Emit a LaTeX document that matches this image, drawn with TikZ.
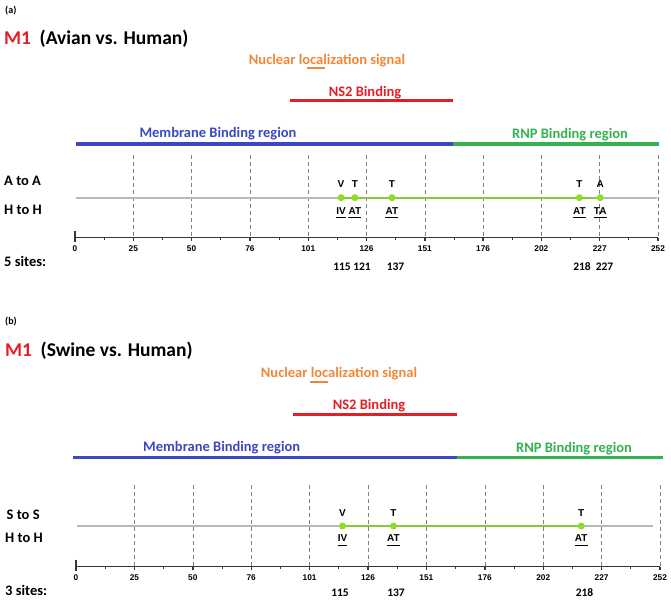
\documentclass[tikz,border=0pt]{standalone}
\usepackage{fontspec}
\setmainfont{Carlito}
\newfontfamily\arialf{Liberation Sans}
\definecolor{mred}{RGB}{226,30,38}
\definecolor{morange}{RGB}{240,135,55}
\definecolor{mblue}{RGB}{60,72,195}
\definecolor{mgreen}{RGB}{52,178,80}
\definecolor{dotgreen}{RGB}{140,222,40}
\definecolor{linegreen}{RGB}{140,200,60}
\definecolor{axgray}{RGB}{55,55,55}
\newcommand\fs[1]{\fontsize{#1}{#1}\selectfont}
\newcommand\axisrow[8]{%
  \foreach \v/\l [count=\i] in {0/0,25.2/25,50.4/50,75.6/76,100.8/101,126/126,151.2/151,176.4/176,201.6/202,226.8/227,252/252}{
    \ifnum\i>1 \draw[dashln] ({#2+\v*#3},#4) -- ({#2+\v*#3},#6+3);\fi
    \draw[axln] ({#2+\v*#3},#6) -- ({#2+\v*#3},#6+3);
    \node[ticklab] (#1-tl\i) at ({#2+\v*#3},#8) {\l};
  }
  \foreach \v in {12.6,37.8,63,88.2,113.4,138.6,163.8,189,214.2,239.4}{
    \draw[axln,line width=0.8pt] ({#2+\v*#3},#6) -- ({#2+\v*#3},#6+2);
  }
  \draw[grayln] ({#2+1},#5) -- (#7,#5);
  \draw[axln] (#2,#6) -- ({#2+252*#3},#6);
  \draw[axln,line width=1.6pt] (#2,#6-7) -- (#2,#6+4);
}
\begin{document}
\begin{tikzpicture}[x=1pt,y=-1pt,
  every node/.style={inner sep=0pt},
  tag/.style={font=\bfseries\fs{10},anchor=base west},
  ttl/.style={font=\bfseries\fs{19.5},anchor=base west},
  region/.style={font=\bfseries\fs{14.5},anchor=base},
  rowlab/.style={font=\bfseries\fs{14.5},anchor=base west},
  ticklab/.style={font=\arialf\bfseries\fs{8.3},anchor=base},
  sitetop/.style={font=\arialf\bfseries\fs{10},anchor=base},
  sitenum/.style={font=\bfseries\fs{11.5},anchor=base},
  dot/.style={circle,fill=dotgreen,minimum size=7pt},
  dashln/.style={gray,line width=0.6pt,dash pattern=on 4pt off 3pt},
  grayln/.style={draw=black!28,line width=1.2pt},
  axln/.style={draw=axgray,line width=1.4pt},
  siteln/.style={draw=linegreen,line width=2pt},
  ulin/.style={line width=1pt},
  bar/.style={line width=3.5pt}]
\useasboundingbox (0,0) rectangle (671,599);

% ---------------- panel (a)
\node[tag] (a-tag) at (5,13.5) {(a)};
\node[ttl,text=mred] (a-m1) at (4,44.5) {M1};
\node[ttl] (a-title) at (39.5,44.5) {(Avian vs. Human)};
\node[region,text=morange] (a-nls) at (327,65) {Nuclear localization signal};
\draw[morange,line width=2pt] (307,68.5) -- (325,68.5);
\node[region,text=mred] (a-ns2) at (365,96.5) {NS2 Binding};
\draw[mred,line width=3pt] (290,100.5) -- (453,100.5);
\node[region,text=mblue] (a-mem) at (218,137.5) {Membrane Binding region};
\node[region,text=mgreen] (a-rnp) at (570,138.5) {RNP Binding region};
\draw[mblue,bar] (76,144) -- (453,144);
\draw[mgreen,bar] (453,144) -- (659,144);
\node[rowlab] (a-r1) at (4,185.7) {A to A};
\node[rowlab] (a-r2) at (4,214.3) {H to H};
\node[rowlab] (a-r3) at (4,266.7) {5 sites:};
\axisrow{a}{75}{2.3135}{155}{198}{237.7}{657}{251.5}
\foreach \s [count=\i] in {115,121,137,218,227}{
  \coordinate (a-c\i) at ({75+\s*2.3135},197.7);
}
\draw[siteln] (a-c1) -- (a-c5);
\foreach \s/\a/\b/\nx [count=\i] in {115/V/IV/342,121/T/AT/362,137/T/AT/395.5,218/T/AT/582,227/A/TA/604.5}{
  \node[dot] (a-d\i) at (a-c\i) {};
  \node[sitetop] (a-u\i) at ({75+\s*2.3135},187.3) {\a};
  \node[sitetop] (a-w\i) at ({75+\s*2.3135},214.3) {\b};
  \draw[ulin] ([yshift=-3.4pt]a-w\i.base west) -- ([yshift=-3.4pt]a-w\i.base east);
  \node[sitenum] (a-n\i) at (\nx,270) {\s};
}

% ---------------- panel (b)
\node[tag] (b-tag) at (5,324.5) {(b)};
\node[ttl,text=mred] (b-m1) at (5,356.7) {M1};
\node[ttl] (b-title) at (40.5,356.7) {(Swine vs. Human)};
\node[region,text=morange] (b-nls) at (339,377.7) {Nuclear localization signal};
\draw[morange,line width=2pt] (310,381.5) -- (328,381.5);
\node[region,text=mred] (b-ns2) at (369,409.3) {NS2 Binding};
\draw[mred,line width=3pt] (293,414) -- (457,414);
\node[region,text=mblue] (b-mem) at (221.7,451) {Membrane Binding region};
\node[region,text=mgreen] (b-rnp) at (574,452.5) {RNP Binding region};
\draw[mblue,bar] (73,457.3) -- (457,457.3);
\draw[mgreen,bar] (457,457.3) -- (663,457.3);
\node[rowlab] (b-r1) at (6.5,519.3) {S to S};
\node[rowlab] (b-r2) at (5,542) {H to H};
\node[rowlab] (b-r3) at (5,595.7) {3 sites:};
\axisrow{b}{76}{2.3175}{485}{526}{566.7}{653}{580}
\foreach \s [count=\i] in {115,137,218}{
  \coordinate (b-c\i) at ({76+\s*2.3175},526);
}
\draw[siteln] (b-c1) -- (b-c3);
\foreach \s/\a/\b/\nx [count=\i] in {115/V/IV/340,137/T/AT/396,218/T/AT/584.5}{
  \node[dot] (b-d\i) at (b-c\i) {};
  \node[sitetop] (b-u\i) at ({76+\s*2.3175},516.7) {\a};
  \node[sitetop] (b-w\i) at ({76+\s*2.3175},541.7) {\b};
  \draw[ulin] ([yshift=-3.4pt]b-w\i.base west) -- ([yshift=-3.4pt]b-w\i.base east);
  \node[sitenum] (b-n\i) at (\nx,596.5) {\s};
}
\end{tikzpicture}
\end{document}
